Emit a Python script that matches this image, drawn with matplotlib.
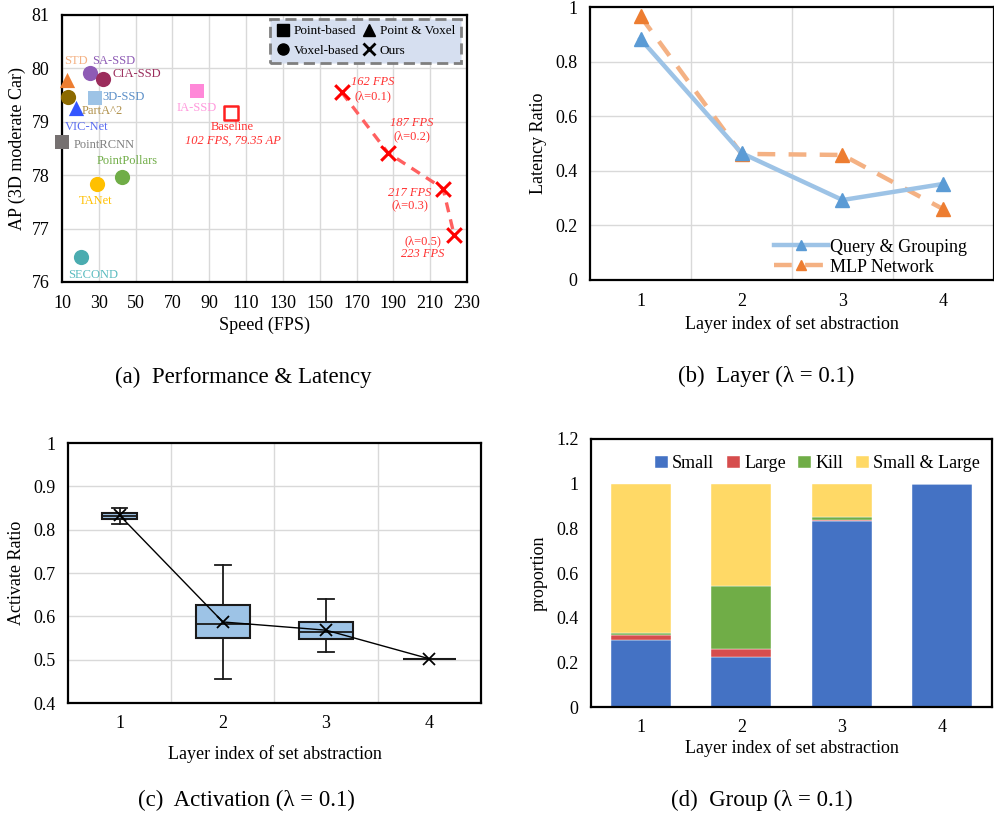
import matplotlib
matplotlib.use("Agg")
import matplotlib.pyplot as plt
from matplotlib.lines import Line2D
from matplotlib.ticker import FuncFormatter, MultipleLocator

plt.rcParams["font.family"] = ["Liberation Serif", "DejaVu Serif"]
plt.rcParams["mathtext.fontset"] = "stix"

# ---- (a) performance vs speed ----
methods = ["STD", "SA-SSD", "CIA-SSD", "3D-SSD", "PartA^2", "VIC-Net", "PointRCNN",
           "PointPollars", "TANet", "SECOND", "IA-SSD"]
m_fps = [12.5, 25.2, 32.4, 27.9, 13.1, 17.6, 10.2, 42.7, 28.8, 20.3, 83.1]
m_ap = [79.78, 79.92, 79.81, 79.45, 79.46, 79.25, 78.62, 77.97, 77.84, 76.46, 79.57]
m_marker = ["^", "o", "o", "s", "o", "^", "s", "o", "o", "o", "s"]
m_color = ["#ed7d31", "#8e5bb5", "#9b2d5c", "#9dc3e6", "#8c6a00", "#3355ff", "#767171",
           "#70ad47", "#ffc000", "#4bacb0", "#ff88d8"]
label_color = ["#f4b183", "#8e5bb5", "#9b2d5c", "#5b8fc8", "#b0904a", "#5a6cf0", "#808080",
               "#70ad47", "#ffc000", "#5bbcc0", "#ff99dd"]
# label anchor (left edge, centre line) for each method
label_fps = [11.3, 26.1, 37.5, 32.1, 20.7, 11.3, 16.5, 28.8, 18.9, 13.4, 72.3]
label_ap = [80.14, 80.14, 79.89, 79.46, 79.21, 78.91, 78.57, 78.26, 77.52, 76.14, 79.26]

base_fps, base_ap = 101.6, 79.17
ours_fps = [162, 187, 217, 223]
ours_ap = [79.55, 78.42, 77.75, 76.88]
ours_lam = ["0.1", "0.2", "0.3", "0.5"]

# ---- (b) latency ratio per layer ----
layers = [1, 2, 3, 4]
query_group = [0.883, 0.465, 0.293, 0.352]
mlp_net = [0.966, 0.462, 0.458, 0.259]

# ---- (c) activation ratio boxes ----
act_q1 = [0.825, 0.551, 0.547, 0.502]
act_med = [0.8315, 0.583, 0.565, 0.502]
act_q3 = [0.838, 0.627, 0.587, 0.502]
act_lo = [0.814, 0.456, 0.518, 0.502]
act_hi = [0.850, 0.7185, 0.641, 0.502]
act_mean = [0.833, 0.587, 0.568, 0.502]

# ---- (d) group proportions ----
grp_small = [0.302, 0.222, 0.835, 1.0]
grp_large = [0.020, 0.038, 0.003, 0.0]
grp_kill = [0.008, 0.283, 0.012, 0.0]
grp_both = [0.670, 0.457, 0.150, 0.0]
grp_names = ["Small", "Large", "Kill", "Small & Large"]
grp_colors = ["#4472c4", "#d64d4d", "#70ad47", "#ffd966"]

TICK_FS = 13
LABEL_FS = 13
CAP_FS = 16.5
ANN_FS = 9
GRID = "#d9d9d9"


def style_axes(ax):
    for s in ax.spines.values():
        s.set_linewidth(1.6)
        s.set_color("black")
    ax.tick_params(length=0, labelsize=TICK_FS, pad=9)


def cat_grid(ax, ys):
    for gx in [1.5, 2.5, 3.5]:
        ax.axvline(gx, color=GRID, linewidth=1.0, zorder=0)
    for gy in ys:
        ax.axhline(gy, color=GRID, linewidth=1.0, zorder=0)


fmt = FuncFormatter(lambda v, p: f"{v:g}")
lam = "λ = 0.1"

fig = plt.figure(figsize=(9.95, 8.15), dpi=100)

# ================= (a) =================
ax = fig.add_axes([62 / 995, 1 - 282 / 815, 405 / 995, 267 / 815])
style_axes(ax)
ax.grid(True, color=GRID, linewidth=1.0)
ax.set_axisbelow(True)
for f, a, mk, c in zip(m_fps, m_ap, m_marker, m_color):
    ax.scatter(f, a, marker=mk, s=120 if mk != "s" else 100, color=c, zorder=3,
               linewidths=0, clip_on=False)
for name, lf, la, lc in zip(methods, label_fps, label_ap, label_color):
    ax.text(lf, la, name, color=lc, fontsize=ANN_FS, ha="left", va="center", zorder=4)

ax.scatter(base_fps, base_ap, marker="s", s=100, facecolors="white", edgecolors="#ff2020",
           linewidths=1.8, zorder=3)
ax.text(base_fps + 1, 78.9, "Baseline", color="#ff3030", fontsize=ANN_FS, ha="center",
        va="center")
ax.text(base_fps + 1, 78.65, "102 FPS, 79.35 AP", color="#ff3030", fontsize=ANN_FS,
        ha="center", va="center", style="italic")

ax.plot(ours_fps, ours_ap, color="#ff6060", linestyle=(0, (3, 2.2)), linewidth=2.4, zorder=2)
ax.scatter(ours_fps, ours_ap, marker="x", s=110, color="#ff0000", linewidths=2.2, zorder=3,
           clip_on=False)
ours_lbl_x = [179, 200, 199, 206]
ours_lbl_y = [(79.75, 79.48), (78.98, 78.73), (77.67, 77.43), (76.52, 76.77)]
for fx, (y1, y2), f, lm in zip(ours_lbl_x, ours_lbl_y, ours_fps, ours_lam):
    ax.text(fx, y1, f"{f} FPS", color="#ff3030", fontsize=ANN_FS, ha="center", va="center",
            style="italic")
    ax.text(fx, y2, f"(λ={lm})", color="#ff3030", fontsize=ANN_FS, ha="center", va="center")

ax.set_xlim(10, 230)
ax.set_ylim(76, 81)
ax.set_xticks(range(10, 231, 20))
ax.yaxis.set_major_locator(MultipleLocator(1))
ax.set_xlabel("Speed (FPS)", fontsize=LABEL_FS, labelpad=4)
ax.set_ylabel("AP (3D moderate Car)", fontsize=LABEL_FS, labelpad=4)

handles = [
    Line2D([], [], marker="s", color="black", linestyle="none", markersize=8),
    Line2D([], [], marker="o", color="black", linestyle="none", markersize=8),
    Line2D([], [], marker="^", color="black", linestyle="none", markersize=8),
    Line2D([], [], marker="x", color="black", linestyle="none", markersize=8, markeredgewidth=2),
]
leg = ax.legend(handles, ["Point-based", "Voxel-based", "Point & Voxel", "Ours"], ncol=2,
                loc="upper right", fontsize=9.5, frameon=True, fancybox=False,
                handlelength=1.0, handletextpad=0.3, columnspacing=0.3, labelspacing=0.55,
                borderpad=0.45, borderaxespad=0.0, bbox_to_anchor=(0.985, 0.985))
leg.get_frame().set_facecolor("#d6dff0")
leg.get_frame().set_alpha(1)
leg.get_frame().set_edgecolor("#7f7f7f")
leg.get_frame().set_linewidth(2)
leg.get_frame().set_linestyle((0, (4, 2)))

fig.text(243 / 995, 1 - 377 / 815, "(a)  Performance & Latency", fontsize=CAP_FS,
         ha="center", va="center")

# ================= (b) =================
ax = fig.add_axes([590 / 995, 1 - 280 / 815, 404 / 995, 273 / 815])
style_axes(ax)
ax.set_xlim(0.5, 4.5)
ax.set_ylim(0, 1)
ax.yaxis.set_major_locator(MultipleLocator(0.2))
ax.yaxis.set_major_formatter(fmt)
ax.set_xticks(layers)
cat_grid(ax, [0.2, 0.4, 0.6, 0.8])
ax.plot(layers, query_group, color="#9dc3e6", linewidth=3.2, marker="^", markersize=10,
        markerfacecolor="#5b9bd5", markeredgecolor="#5b9bd5", label="Query & Grouping", zorder=3)
ax.plot(layers, mlp_net, color="#f4b183", linewidth=3.2, linestyle=(0, (4, 3)), marker="^",
        markersize=10, markerfacecolor="#ed7d31", markeredgecolor="#ed7d31",
        label="MLP Network", zorder=2, clip_on=False)
ax.legend(loc="lower right", frameon=False, fontsize=LABEL_FS, handlelength=3.0,
          handletextpad=0.1, labelspacing=0.15, borderaxespad=0.0, markerscale=0.7,
          bbox_to_anchor=(0.95, -0.01))
ax.set_ylabel("Latency Ratio", fontsize=LABEL_FS, labelpad=6)
ax.set_xlabel("Layer index of set abstraction", fontsize=LABEL_FS, labelpad=4)
fig.text(766 / 995, 1 - 376 / 815, "(b)  Layer (" + lam + ")", fontsize=CAP_FS,
         ha="center", va="center")

# ================= (c) =================
ax = fig.add_axes([68 / 995, 1 - 703 / 815, 413 / 995, 260 / 815])
style_axes(ax)
ax.set_xlim(0.5, 4.5)
ax.set_ylim(0.4, 1.0)
ax.yaxis.set_major_locator(MultipleLocator(0.1))
ax.yaxis.set_major_formatter(fmt)
cat_grid(ax, [0.5, 0.6, 0.7, 0.8, 0.9])
stats = []
for i in range(len(layers)):
    stats.append(dict(q1=act_q1[i], med=act_med[i], q3=act_q3[i], whislo=act_lo[i],
                      whishi=act_hi[i], fliers=[]))
ax.bxp(stats, positions=layers, widths=[0.34, 0.52, 0.52, 0.52], patch_artist=True,
       showfliers=False,
       boxprops=dict(facecolor="#9dc3e6", edgecolor="#1a1a1a", linewidth=1.5),
       medianprops=dict(color="#1a1a1a", linewidth=1.3),
       whiskerprops=dict(color="#1a1a1a", linewidth=1.3),
       capprops=dict(color="#1a1a1a", linewidth=1.3), capwidths=0.15,
       manage_ticks=False, zorder=3)
ax.plot(layers, act_mean, color="black", linewidth=1.0, marker="x", markersize=8,
        markeredgewidth=1.3, zorder=4)
ax.set_xticks(layers)
ax.set_ylabel("Activate Ratio", fontsize=LABEL_FS, labelpad=6)
ax.set_xlabel("Layer index of set abstraction", fontsize=LABEL_FS, labelpad=9)
fig.text(246 / 995, 1 - 800 / 815, "(c)  Activation (" + lam + ")", fontsize=CAP_FS,
         ha="center", va="center")

# ================= (d) =================
ax = fig.add_axes([591 / 995, 1 - 707 / 815, 401 / 995, 268 / 815])
style_axes(ax)
ax.set_xlim(0.5, 4.5)
ax.set_ylim(0, 1.2)
ax.yaxis.set_major_locator(MultipleLocator(0.2))
ax.yaxis.set_major_formatter(fmt)
bottom = [0.0] * len(layers)
for vals, name, col in zip([grp_small, grp_large, grp_kill, grp_both], grp_names, grp_colors):
    ax.bar(layers, vals, width=0.6, bottom=bottom, color=col, label=name,
           edgecolor="white", linewidth=0.3)
    bottom = [b + v for b, v in zip(bottom, vals)]
ax.set_xticks(layers)
ax.legend(loc="upper center", ncol=4, frameon=False, fontsize=LABEL_FS, handlelength=0.7,
          handleheight=0.7, handletextpad=0.25, columnspacing=0.7,
          bbox_to_anchor=(0.565, 1.0))
ax.set_ylabel("proportion", fontsize=LABEL_FS, labelpad=6)
ax.set_xlabel("Layer index of set abstraction", fontsize=LABEL_FS, labelpad=2)
fig.text(762 / 995, 1 - 800 / 815, "(d)  Group (" + lam + ")", fontsize=CAP_FS,
         ha="center", va="center")

fig.savefig("out.png", dpi=100)
